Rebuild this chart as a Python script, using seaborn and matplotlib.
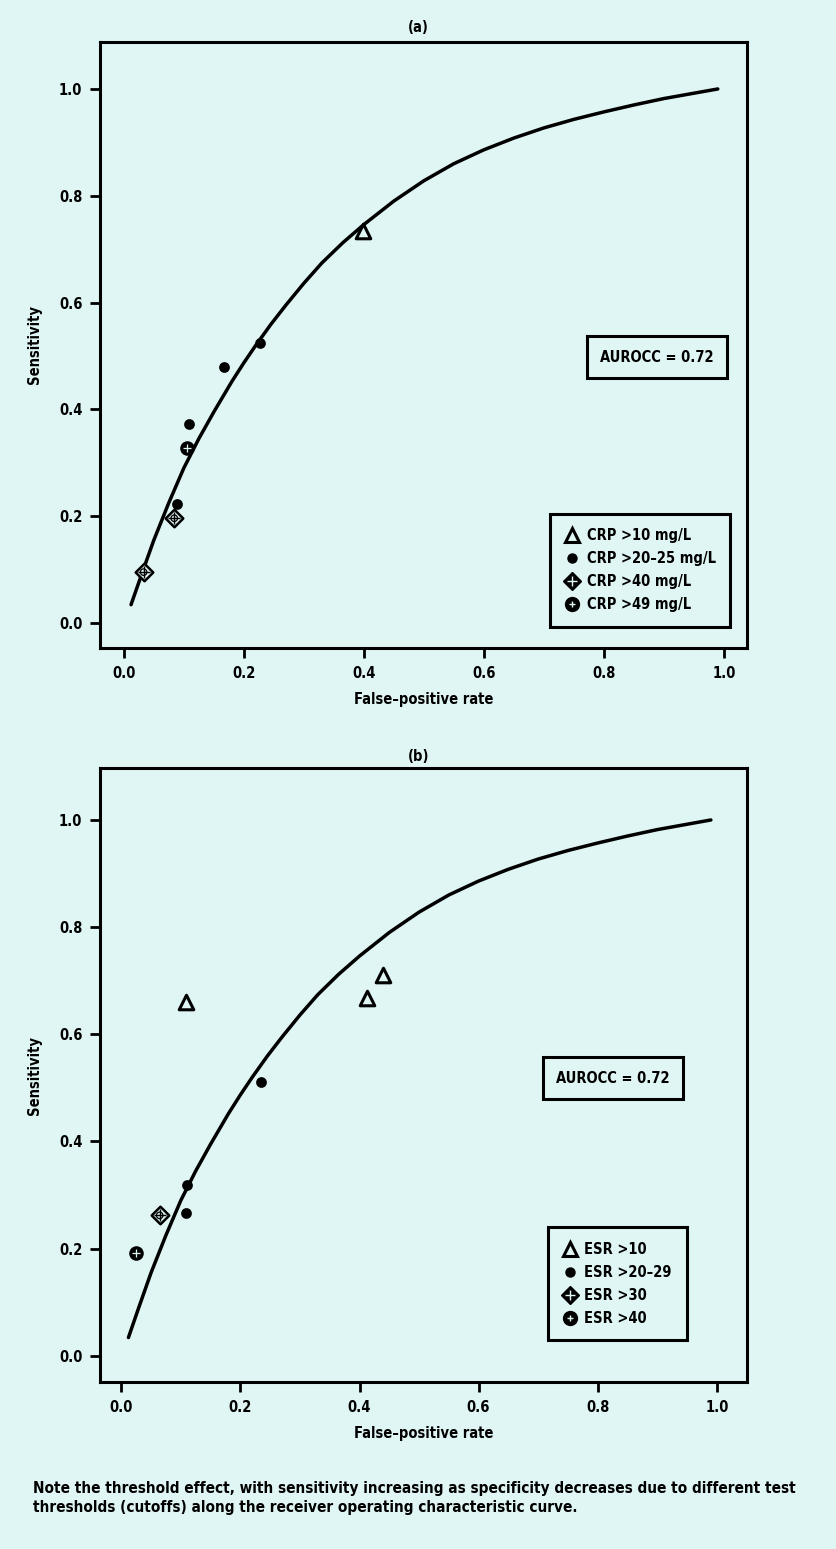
import numpy as np
import pandas as pd
import matplotlib
matplotlib.use("Agg")
import matplotlib.pyplot as plt
from matplotlib.lines import Line2D
from matplotlib.legend_handler import HandlerTuple
import seaborn as sns

# ---------------- data ----------------
# summary ROC curve
curve_fpr = [0.012, 0.03, 0.05, 0.075, 0.10, 0.125, 0.15, 0.18, 0.20, 0.22,
             0.245, 0.27, 0.30, 0.33, 0.365, 0.40, 0.45, 0.50, 0.55, 0.60,
             0.65, 0.70, 0.75, 0.80, 0.85, 0.90, 0.95, 0.99]
curve_sens = [0.034, 0.092, 0.155, 0.225, 0.290, 0.345, 0.395, 0.452, 0.487, 0.520,
              0.559, 0.595, 0.636, 0.674, 0.712, 0.746, 0.790, 0.828, 0.860, 0.886,
              0.908, 0.927, 0.943, 0.957, 0.970, 0.982, 0.992, 1.000]

# panel (a) CRP
crp_labels = ["CRP >10 mg/L", "CRP >20\u201325 mg/L", "CRP >40 mg/L", "CRP >49 mg/L"]
crp10_fpr, crp10_sens = [0.398], [0.734]
crp20_fpr, crp20_sens = [0.089, 0.109, 0.167, 0.227], [0.223, 0.373, 0.479, 0.524]
crp40_fpr, crp40_sens = [0.033, 0.084], [0.095, 0.196]
crp49_fpr, crp49_sens = [0.105], [0.327]

# panel (b) ESR
esr_labels = ["ESR >10", "ESR >20\u201329", "ESR >30", "ESR >40"]
esr10_fpr, esr10_sens = [0.1085, 0.412, 0.439], [0.661, 0.668, 0.711]
esr20_fpr, esr20_sens = [0.234, 0.110, 0.1085], [0.511, 0.319, 0.266]
esr30_fpr, esr30_sens = [0.0645], [0.262]
esr40_fpr, esr40_sens = [0.025], [0.192]

auroc_text = "AUROCC = 0.72"
ticks = [0.0, 0.2, 0.4, 0.6, 0.8, 1.0]
tick_labels = ["0.0", "0.2", "0.4", "0.6", "0.8", "1.0"]
caption = ("Note the threshold effect, with sensitivity increasing as specificity decreases due to different test\n"
           "thresholds (cutoffs) along the receiver operating characteristic curve.")

# ---------------- style ----------------
BG = "#e0f6f4"
sns.set_theme(style="white")
plt.rcParams["font.family"] = ["DejaVu Sans"]
plt.rcParams["font.stretch"] = "condensed"
plt.rcParams["font.weight"] = "bold"
plt.rcParams["axes.linewidth"] = 2.0
plt.rcParams["text.color"] = "black"
plt.rcParams["axes.labelcolor"] = "black"
plt.rcParams["xtick.color"] = "black"
plt.rcParams["ytick.color"] = "black"

fig = plt.figure(figsize=(8.37, 15.49), dpi=100, facecolor=BG)

FS = 10.5


def panel(ax, groups, labels, xlim, ylim, legend_anchor, auroc_xy):
    ax.set_facecolor(BG)
    sns.lineplot(x=curve_fpr, y=curve_sens, ax=ax, color="black", linewidth=2.5,
                 sort=False, estimator=None)
    ax.lines[-1].set_solid_joinstyle("round")
    (f10, s10), (f20, s20), (f40, s40), (f49, s49) = groups
    # triangles
    sns.scatterplot(x=f10, y=s10, ax=ax, marker="^", s=110, color=BG,
                    edgecolor="black", linewidth=2.2, zorder=5)
    # dots
    sns.scatterplot(x=f20, y=s20, ax=ax, marker="o", s=60, color="black",
                    edgecolor="black", linewidth=0, zorder=5)
    # diamond with cross
    sns.scatterplot(x=f40, y=s40, ax=ax, marker="D", s=80, color=BG,
                    edgecolor="black", linewidth=1.8, zorder=5)
    sns.scatterplot(x=f40, y=s40, ax=ax, marker="o", s=22, color="none",
                    edgecolor="black", linewidth=0.9, zorder=6)
    sns.scatterplot(x=f40, y=s40, ax=ax, marker="+", s=75, color="black",
                    linewidth=1.0, zorder=6)
    # filled circle with light cross
    sns.scatterplot(x=f49, y=s49, ax=ax, marker="o", s=110, color="black",
                    edgecolor="black", linewidth=0, zorder=5)
    sns.scatterplot(x=f49, y=s49, ax=ax, marker="+", s=35, color=BG,
                    linewidth=0.9, zorder=6)

    ax.set_xlim(*xlim)
    ax.set_ylim(*ylim)
    ax.set_xticks(ticks)
    ax.set_xticklabels(tick_labels)
    ax.set_yticks(ticks)
    ax.set_yticklabels(tick_labels)
    ax.tick_params(axis="both", direction="out", length=7, width=2.0,
                   labelsize=FS, color="black", labelcolor="black", pad=6,
                   bottom=True, left=True)
    for lab in ax.get_xticklabels() + ax.get_yticklabels():
        lab.set_fontweight("bold")
    for sp in ax.spines.values():
        sp.set_color("black")
        sp.set_linewidth(2.2)
        sp.set_visible(True)
    ax.set_xlabel("False\u2013positive rate", fontsize=FS, fontweight="bold", labelpad=8,
                  color="black")
    ax.set_ylabel("Sensitivity", fontsize=FS, fontweight="bold", labelpad=12,
                  color="black")

    # legend
    h_tri = Line2D([], [], marker="^", ls="none", markersize=10, markerfacecolor=BG,
                   markeredgecolor="black", markeredgewidth=2.2)
    h_dot = Line2D([], [], marker="o", ls="none", markersize=6.5, markerfacecolor="black",
                   markeredgecolor="black")
    h_dia = Line2D([], [], marker="D", ls="none", markersize=9, markerfacecolor="black",
                   markeredgecolor="black")
    h_dia2 = Line2D([], [], marker="+", ls="none", markersize=7, markeredgecolor=BG,
                    markeredgewidth=1.0)
    h_cir = Line2D([], [], marker="o", ls="none", markersize=10, markerfacecolor="black",
                   markeredgecolor="black")
    h_cir2 = Line2D([], [], marker="+", ls="none", markersize=5, markeredgecolor=BG,
                    markeredgewidth=1.0)
    leg = ax.legend(handles=[h_tri, h_dot, (h_dia, h_dia2), (h_cir, h_cir2)],
                    labels=labels, handler_map={tuple: HandlerTuple(ndivide=1)},
                    loc="lower right", bbox_to_anchor=legend_anchor,
                    fancybox=False, frameon=True, framealpha=1.0, facecolor=BG,
                    edgecolor="black", fontsize=FS, borderpad=1.0, labelspacing=0.55,
                    handletextpad=0.5, handlelength=1.0, borderaxespad=0)
    leg.get_frame().set_linewidth(2.2)
    for t in leg.get_texts():
        t.set_fontweight("bold")
        t.set_color("black")

    ax.text(auroc_xy[0], auroc_xy[1], auroc_text, transform=ax.transAxes,
            ha="center", va="center", fontsize=FS, fontweight="bold", color="black",
            bbox=dict(boxstyle="square,pad=0.9", facecolor=BG, edgecolor="black",
                      linewidth=2.2))


ax_a = fig.add_axes([0.1200, 0.5817, 0.7720, 0.3912])
panel(ax_a,
      [(crp10_fpr, crp10_sens), (crp20_fpr, crp20_sens), (crp40_fpr, crp40_sens), (crp49_fpr, crp49_sens)],
      crp_labels, (-0.039, 1.038), (-0.047, 1.088), (0.975, 0.035), (0.861, 0.480))

ax_b = fig.add_axes([0.1200, 0.1078, 0.7720, 0.3964])
panel(ax_b,
      [(esr10_fpr, esr10_sens), (esr20_fpr, esr20_sens), (esr30_fpr, esr30_sens), (esr40_fpr, esr40_sens)],
      esr_labels, (-0.035, 1.050), (-0.049, 1.097), (0.907, 0.068), (0.793, 0.495))

fig.text(0.5, 1 - 28 / 1549, "(a)", ha="center", va="center", fontsize=FS, fontweight="bold",
         color="black")
fig.text(0.5, 1 - 757 / 1549, "(b)", ha="center", va="center", fontsize=FS, fontweight="bold",
         color="black")
fig.text(33 / 837, 1 - 1481 / 1549, caption, ha="left", va="top", fontsize=11.0,
         fontweight="bold", linespacing=1.3, color="black")

fig.savefig("out.png", dpi=100, facecolor=BG)
